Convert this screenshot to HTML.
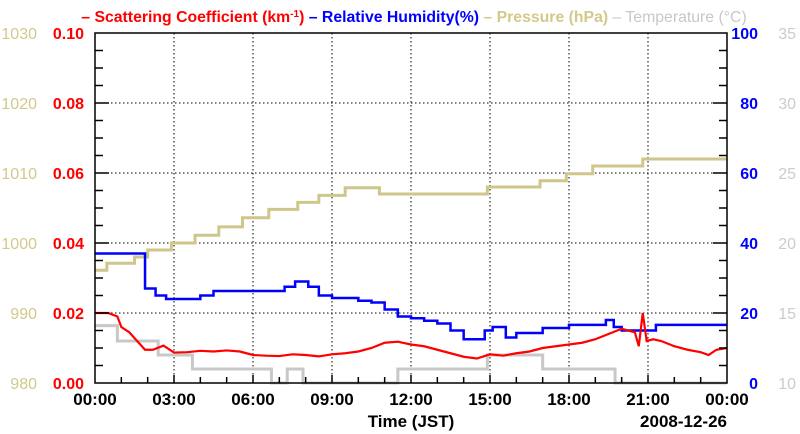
<!DOCTYPE html>
<html><head><meta charset="utf-8"><style>
html,body{margin:0;padding:0;background:#fff;width:800px;height:434px;overflow:hidden}
svg{display:block;font-family:"Liberation Sans",sans-serif}
</style></head><body>
<svg id="chart" width="800" height="434" viewBox="0 0 800 434">
<text x="414" y="22" text-anchor="middle" font-size="15.8" font-weight="bold"><tspan fill="#ff0000">– Scattering Coefficient (km<tspan baseline-shift="super" font-size="10">-1</tspan>)</tspan><tspan fill="#0000ff"> – Relative Humidity(%)</tspan><tspan fill="#d2c98a"> – Pressure (hPa)</tspan><tspan fill="#c8c8c8" font-weight="normal"> – Temperature (°C)</tspan></text>
<g id="grid"></g>
<g id="series"></g>
<g id="axes"></g>
</svg>
<script>
// ---- data ----
const scatHours = [0,0.5,0.85,1,1.3,1.6,1.9,2.2,2.6,3,3.5,4,4.5,5,5.5,6,6.5,7,7.5,8,8.5,9,9.5,10,10.5,11,11.5,12,12.5,13,13.5,14,14.5,15,15.5,16,16.5,17,17.5,18,18.5,19,19.5,20,20.5,20.65,20.8,20.95,21.2,21.5,22,22.5,23,23.3,23.6,24];
const scatValues = [0.020,0.020,0.019,0.016,0.0145,0.012,0.0095,0.0095,0.0107,0.0087,0.0088,0.0092,0.009,0.0093,0.009,0.008,0.0078,0.0077,0.0082,0.008,0.0076,0.0082,0.0085,0.009,0.0100,0.0115,0.0118,0.0110,0.0105,0.0095,0.0085,0.0075,0.0070,0.0082,0.0078,0.0085,0.0090,0.0100,0.0105,0.0110,0.0115,0.0125,0.0140,0.0155,0.0145,0.0105,0.0200,0.0120,0.0125,0.0120,0.0105,0.0095,0.0088,0.0080,0.0095,0.0100];
const rhHours = [0,1.6,1.9,2.3,2.7,3.5,4,4.5,6.7,7.2,7.6,8.1,8.5,9,10,10.5,11,11.5,12,12.5,13,13.5,14,14.6,14.8,15.1,15.6,16,17,18,19,19.4,19.7,20,21.3];
const rhValues = [37,37,27,25,24,24,25,26.3,26.3,27.5,29,27.5,25,24.3,23.5,23,21,19,18.5,17.8,17,15,12.5,12.5,15,16,13,14.3,15.7,16.6,16.6,18,16,15,16.6];
const presHours = [0,0.45,1.5,2,2.9,3.8,4.7,5.6,6.6,7.7,8.5,9.5,10.8,14.9,16.9,17.9,18.9,20.8];
const presValues = [996.1,997.1,998,999,1000,1001.1,1002.3,1003.6,1004.8,1005.8,1006.8,1007.9,1007,1008,1008.9,1009.9,1011,1012];
const tempHours = [0,0.85,2.4,3.7,6.7,7.3,7.9,11.5,14.9,17,19.75];
const tempValues = [14.1,13,12,11,10,11,10,11,12,11,10];
const xTickLabels = ["00:00","03:00","06:00","09:00","12:00","15:00","18:00","21:00","00:00"];
const scatTicks = ["0.00","0.02","0.04","0.06","0.08","0.10"];
const rhTicks = ["0","20","40","60","80","100"];
const presTicks = ["980","990","1000","1010","1020","1030"];
const tempTicks = ["10","15","20","25","30","35"];

// ---- axes ----
const L=95,R=727,T=33,B=383;
const x = h => L + (R-L)*h/24;
const yS = v => B - (B-T)*v/0.10;
const yH = v => B - (B-T)*v/100;
const yP = v => B - (B-T)*(v-980)/50;
const yT = v => B - (B-T)*(v-10)/25;
const NS="http://www.w3.org/2000/svg";
function mk(tag,attrs,parent,txt){const e=document.createElementNS(NS,tag);for(const k in attrs)e.setAttribute(k,attrs[k]);if(txt!==undefined)e.textContent=txt;parent.appendChild(e);return e;}
const grid=document.getElementById('grid'),ser=document.getElementById('series'),ax=document.getElementById('axes');

for(let i=1;i<8;i++){const g=mk('line',{x1:x(i*3),x2:x(i*3),y1:T,y2:B,stroke:'#000','stroke-width':1,'stroke-dasharray':'1.5,2.5'},grid);

}
for(let i=1;i<5;i++){const g=mk('line',{x1:L,x2:R,y1:yS(i*0.02),y2:yS(i*0.02),stroke:'#000','stroke-width':1,'stroke-dasharray':'1.5,2.5'},grid);

}

function stepPath(hs,vs,yf){let d=`M${x(hs[0])},${yf(vs[0])}`;for(let i=1;i<hs.length;i++){d+=`H${x(hs[i])}V${yf(vs[i])}`;}d+=`H${x(24)}`;return d;}
function linePath(hs,vs,yf){return hs.map((h,i)=>(i?'L':'M')+x(h)+','+yf(vs[i])).join('');}

const pt=mk('path',{d:stepPath(tempHours,tempValues,yT),fill:'none',stroke:'#c8c8c8','stroke-width':3},ser);


const pp=mk('path',{d:stepPath(presHours,presValues,yP),fill:'none',stroke:'#cfc68c','stroke-width':3},ser);


const ph=mk('path',{d:stepPath(rhHours,rhValues,yH),fill:'none',stroke:'#0000ff','stroke-width':2.5},ser);


const ps=mk('path',{d:linePath(scatHours,scatValues,yS),fill:'none',stroke:'#ff0000','stroke-width':2.2},ser);



const frame=mk('rect',{x:L,y:T,width:R-L,height:B-T,fill:'none',stroke:'#000','stroke-width':1.5},ax);


for(let i=1;i<24;i++){mk('line',{x1:x(i),x2:x(i),y1:B,y2:B-(i%3?6:8),stroke:'#000','stroke-width':1.5},ax);}
for(let i=1;i<20;i++){const y=B-(B-T)*i/20;const len=(i%4)?8:14;mk('line',{x1:L,x2:L+len,y1:y,y2:y,stroke:'#000','stroke-width':1.5},ax);mk('line',{x1:R,x2:R-len,y1:y,y2:y,stroke:'#000','stroke-width':1.5},ax);}
xTickLabels.forEach((t,i)=>{const e=mk('text',{x:x(i*3),y:405,'text-anchor':'middle','font-size':17,'font-weight':'bold',fill:'#000'},ax,t);

});
for(let i=0;i<6;i++){const y=B-(B-T)*i/5+6;
let e=mk('text',{x:84,y:y,'text-anchor':'end','font-size':16,'font-weight':'bold',fill:'#ff0000'},ax,scatTicks[i]);


e=mk('text',{x:37,y:y,'text-anchor':'end','font-size':16,fill:'#d2c98a'},ax,presTicks[i]);


e=mk('text',{x:758,y:y,'text-anchor':'end','font-size':16,'font-weight':'bold',fill:'#0000ff'},ax,rhTicks[i]);


e=mk('text',{x:796,y:y,'text-anchor':'end','font-size':16,fill:'#cccccc'},ax,tempTicks[i]);

}
let e=mk('text',{x:411,y:427,'text-anchor':'middle','font-size':17,'font-weight':'bold',fill:'#000'},ax,'Time (JST)');


e=mk('text',{x:727,y:427,'text-anchor':'end','font-size':17,'font-weight':'bold',fill:'#000'},ax,'2008-12-26');


</script>
</body></html>
